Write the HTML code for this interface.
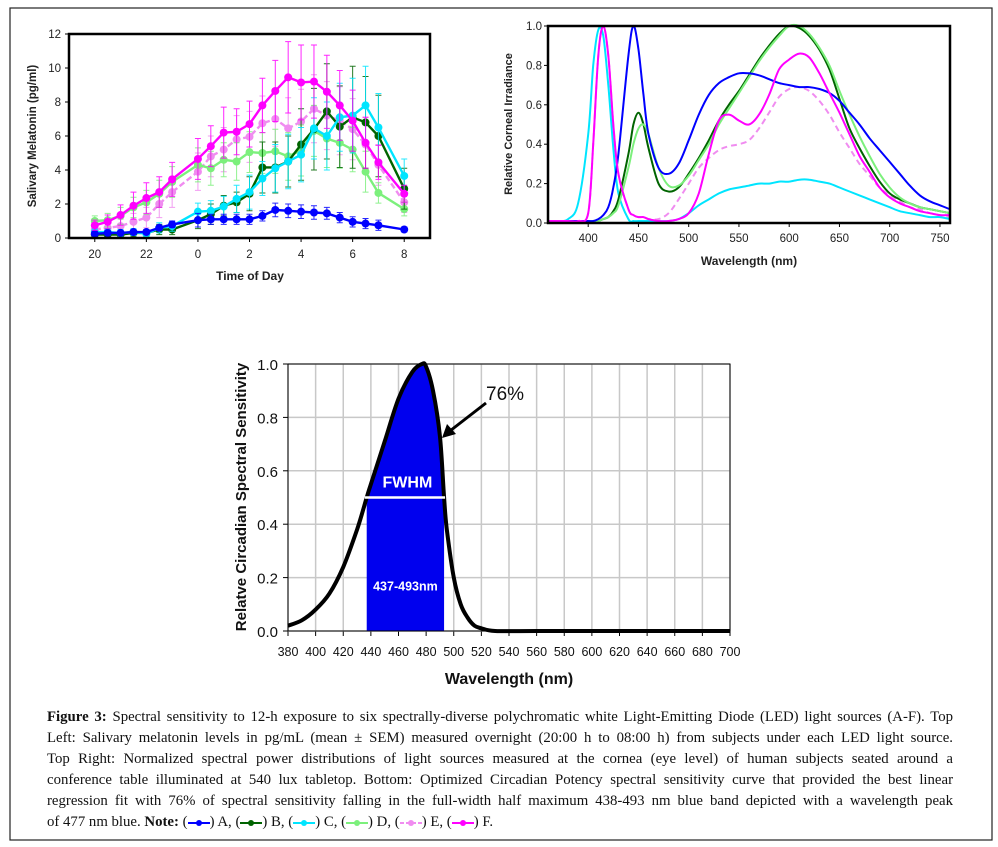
<!DOCTYPE html>
<html><head><meta charset="utf-8">
<style>
html,body{margin:0;padding:0;background:#fff;}
#wrap{position:relative;width:998px;height:847px;overflow:hidden;}
svg{position:absolute;left:0;top:0;}
#caption{position:absolute;left:47px;top:707px;width:906px;font-family:"Liberation Serif",serif;font-size:14.8px;line-height:21px;color:#111;}
#caption .ln{text-align:justify;text-align-last:justify;white-space:nowrap;}
#caption .ln.last{text-align-last:left;}
.lg{display:inline-block;width:22px;height:10px;vertical-align:middle;position:relative;}
</style></head>
<body>
<div id="wrap">
<svg id="svg" width="998" height="847" viewBox="0 0 998 847" xmlns="http://www.w3.org/2000/svg">
  <rect x="10" y="8" width="982" height="832" fill="none" stroke="#222" stroke-width="1.2"/>
  <g id="tl"></g>
  <g id="tr"></g>
  <g id="bt"></g>
</svg>
<div id="caption">
<div class="ln"><b>Figure 3:</b> Spectral sensitivity to 12-h exposure to six spectrally-diverse polychromatic white Light-Emitting Diode (LED) light sources (A-F). Top</div>
<div class="ln">Left: Salivary melatonin levels in pg/mL (mean ± SEM) measured overnight (20:00 h to 08:00 h) from subjects under each LED light source.</div>
<div class="ln">Top Right: Normalized spectral power distributions of light sources measured at the cornea (eye level) of human subjects seated around a</div>
<div class="ln">conference table illuminated at 540 lux tabletop. Bottom: Optimized Circadian Potency spectral sensitivity curve that provided the best linear</div>
<div class="ln">regression fit with 76% of spectral sensitivity falling in the full-width half maximum 438-493 nm blue band depicted with a wavelength peak</div>
<div class="ln last">of 477 nm blue. <b>Note:</b> (<span class="lg"><svg width="22" height="10"><line x1="0" y1="5" x2="22" y2="5" stroke="#0000ff" stroke-width="2"/><circle cx="11" cy="5" r="3" fill="#0000ff"/></svg></span>) A, (<span class="lg"><svg width="22" height="10"><line x1="0" y1="5" x2="22" y2="5" stroke="#006400" stroke-width="2"/><circle cx="11" cy="5" r="3" fill="#006400"/></svg></span>) B, (<span class="lg"><svg width="22" height="10"><line x1="0" y1="5" x2="22" y2="5" stroke="#00e5ff" stroke-width="2"/><circle cx="11" cy="5" r="3" fill="#00e5ff"/></svg></span>) C, (<span class="lg"><svg width="22" height="10"><line x1="0" y1="5" x2="22" y2="5" stroke="#7cf07c" stroke-width="2"/><circle cx="11" cy="5" r="3" fill="#7cf07c"/></svg></span>) D, (<span class="lg"><svg width="22" height="10"><line x1="0" y1="5" x2="22" y2="5" stroke="#f08cf0" stroke-width="2" stroke-dasharray="4 2"/><circle cx="11" cy="5" r="3" fill="#f08cf0"/></svg></span>) E, (<span class="lg"><svg width="22" height="10"><line x1="0" y1="5" x2="22" y2="5" stroke="#ff00ff" stroke-width="2"/><circle cx="11" cy="5" r="3" fill="#ff00ff"/></svg></span>) F.</div>
</div>
</div>
<script>
// ---------- Top-left data (hours since 20:00) ----------
const melHours = [0,0.5,1,1.5,2,2.5,3,4,4.5,5,5.5,6,6.5,7,7.5,8,8.5,9,9.5,10,10.5,11,12];
const melTickLabels = ["20","22","0","2","4","6","8"];
const melTickHours = [0,2,4,6,8,10,12];
const melYTicks = [0,2,4,6,8,10,12];
const melA = [0.25,0.3,0.3,0.35,0.35,0.6,0.8,1.05,1.1,1.1,1.1,1.1,1.3,1.65,1.6,1.55,1.5,1.45,1.2,0.95,0.85,0.75,0.5];
const melB = [0.2,0.2,0.2,0.3,0.3,0.5,0.5,1.05,1.4,1.9,2.1,2.6,4.15,4.15,4.5,5.5,6.4,7.45,6.55,7.1,6.8,6.0,2.9];
const melC = [0.35,0.35,0.3,0.35,0.25,0.6,0.7,1.55,1.6,1.85,2.3,2.7,3.5,4.1,4.5,4.9,6.45,6.0,7.1,7.2,7.8,6.5,3.65];
const melD = [1.0,1.05,1.3,1.8,2.1,2.6,3.3,4.3,4.1,4.6,4.5,5.05,5.0,5.1,4.8,5.15,6.3,5.85,5.6,5.2,3.9,2.65,1.7];
const melE = [0.5,0.6,0.7,0.95,1.2,2.0,2.7,3.9,4.8,5.2,5.8,5.95,6.75,7.0,6.45,6.85,7.6,7.2,6.9,6.4,5.5,4.3,2.1];
const melF = [0.75,0.95,1.35,1.9,2.35,2.7,3.45,4.65,5.4,6.2,6.25,6.7,7.8,8.65,9.45,9.15,9.2,8.6,7.8,6.9,5.6,4.45,2.6];
const semA = [0.1,0.1,0.1,0.1,0.1,0.15,0.2,0.4,0.3,0.3,0.3,0.3,0.3,0.4,0.4,0.4,0.4,0.35,0.3,0.3,0.3,0.3,0.15];
const semB = [0.2,0.2,0.2,0.2,0.2,0.3,0.3,0.5,0.6,0.6,0.6,1.0,1.5,1.5,1.5,2.1,2.4,2.8,2.4,3.0,2.7,2.4,1.2];
const semC = [0.2,0.2,0.2,0.2,0.2,0.3,0.3,0.5,0.6,0.6,0.8,1.0,1.0,1.4,1.6,1.6,1.8,2.0,2.0,2.2,2.3,2.0,1.0];
const semD = [0.3,0.4,0.5,0.6,0.7,0.8,0.9,1.0,1.0,1.0,1.1,1.2,1.2,1.3,1.4,1.5,1.5,1.7,1.5,1.3,1.2,0.6,0.4];
const semE = [0.3,0.3,0.4,0.5,0.6,0.8,0.9,1.1,1.2,1.3,1.4,1.5,1.6,1.6,1.8,1.9,2.0,2.0,2.0,1.8,1.6,1.2,0.6];
const semF = [0.3,0.4,0.6,0.8,0.9,0.9,1.0,1.2,1.2,1.5,1.35,1.35,1.6,1.8,2.1,2.2,2.15,2.15,2.05,1.8,1.5,1.0,0.5];

// ---------- Top-right data ----------
const wl = [360,370,380,390,400,405,410,415,420,425,430,440,445,450,455,460,470,480,490,500,510,520,530,540,550,560,570,580,590,600,610,620,630,640,650,660,670,680,690,700,710,720,730,740,750,760];
const spA = [.01,.01,.01,.01,.01,.01,.02,.04,.08,.18,.35,.85,1.0,.88,.65,.45,.28,.25,.30,.42,.55,.65,.71,.74,.76,.76,.75,.73,.71,.70,.69,.69,.68,.66,.62,.56,.50,.43,.37,.31,.25,.19,.14,.11,.09,.07];
const spB = [.01,.01,.01,.01,.01,.01,.01,.02,.03,.06,.12,.35,.50,.56,.50,.38,.20,.16,.18,.25,.33,.42,.52,.60,.67,.75,.83,.90,.96,1.0,.99,.95,.88,.78,.63,.48,.38,.29,.21,.15,.12,.10,.08,.07,.06,.05];
const spC = [.01,.01,.02,.10,.45,.80,.98,.95,.70,.38,.15,.02,.01,.01,.01,.01,.01,.01,.02,.05,.09,.12,.15,.17,.18,.19,.20,.20,.21,.21,.22,.22,.21,.20,.18,.16,.14,.12,.10,.08,.06,.05,.04,.03,.03,.02];
const spD = [.01,.01,.01,.01,.01,.01,.01,.02,.03,.05,.09,.28,.40,.48,.50,.45,.28,.19,.19,.24,.32,.40,.50,.58,.66,.74,.82,.89,.95,1.0,1.0,.96,.89,.80,.67,.55,.44,.34,.25,.18,.13,.10,.08,.07,.06,.05];
const spE = [.01,.01,.01,.01,.05,.40,.85,1.0,.85,.50,.25,.07,.04,.03,.03,.02,.02,.05,.12,.20,.28,.33,.37,.39,.40,.42,.48,.56,.64,.68,.69,.67,.62,.55,.46,.38,.30,.24,.18,.14,.11,.08,.07,.05,.04,.03];
const spF = [.01,.01,.01,.01,.05,.40,.85,1.0,.85,.50,.25,.07,.04,.03,.03,.02,.01,.01,.02,.05,.15,.35,.52,.55,.52,.50,.55,.65,.78,.83,.86,.84,.76,.66,.56,.45,.34,.26,.18,.13,.10,.08,.06,.05,.04,.04];
const spXTicks = [400,450,500,550,600,650,700,750];
const spYTicks = [0,0.2,0.4,0.6,0.8,1.0];

// ---------- Bottom data ----------
const csWl = [380,390,400,410,420,430,437,440,450,460,470,477,480,485,490,493,495,500,505,510,515,520,530,560,600,650,700];
const csVal = [.02,.04,.08,.14,.24,.38,.5,.55,.71,.87,.97,1.0,.99,.9,.73,.5,.38,.2,.1,.05,.02,.01,0,0,0,0,0];
const csBand = [437,493];
const csHalf = 0.5;
const csXTicks = [380,400,420,440,460,480,500,520,540,560,580,600,620,640,660,680,700];
const csYTicks = [0,0.2,0.4,0.6,0.8,1.0];

const NS = "http://www.w3.org/2000/svg";
function mk(parent, tag, attrs, text){
  const e = document.createElementNS(NS, tag);
  for (const k in attrs) e.setAttribute(k, attrs[k]);
  if (text !== undefined) e.textContent = text;
  parent.appendChild(e);
  return e;
}
function smooth(pts){
  let d = "M" + pts[0][0].toFixed(1) + "," + pts[0][1].toFixed(1);
  for (let i=0;i<pts.length-1;i++){
    const p0 = pts[Math.max(0,i-1)], p1 = pts[i], p2 = pts[i+1], p3 = pts[Math.min(pts.length-1,i+2)];
    const c1x = p1[0]+(p2[0]-p0[0])/6, c1y = p1[1]+(p2[1]-p0[1])/6;
    const c2x = p2[0]-(p3[0]-p1[0])/6, c2y = p2[1]-(p3[1]-p1[1])/6;
    d += " C"+c1x.toFixed(1)+","+c1y.toFixed(1)+" "+c2x.toFixed(1)+","+c2y.toFixed(1)+" "+p2[0].toFixed(1)+","+p2[1].toFixed(1);
  }
  return d;
}
const F = '"Liberation Sans", Arial, sans-serif';

// ================= Top-left =================
(function(){
  const g = document.getElementById('tl');
  const x0=69, x1=430, y0=34, y1=238;
  const xL = h => x0 + (h+1)*(x1-x0)/14;
  const yL = v => y1 - v*(y1-y0)/12;
  melYTicks.forEach(v=>{
    const t = mk(g,'text',{x:x0-8,y:yL(v)+4,'text-anchor':'end','font-family':F,'font-size':11.5,fill:'#222'},String(v));
    
    
    mk(g,'line',{x1:x0-4,x2:x0,y1:yL(v),y2:yL(v),stroke:'#000'});
  });
  melTickHours.forEach((h,i)=>{
    const t = mk(g,'text',{x:xL(h),y:y1+20,'text-anchor':'middle','font-family':F,'font-size':11.5,fill:'#222'},melTickLabels[i]);
    
    
    mk(g,'line',{x1:xL(h),x2:xL(h),y1:y1,y2:y1+4,stroke:'#000'});
  });
  const xt = mk(g,'text',{x:250,y:280,'text-anchor':'middle','font-family':F,'font-size':12,'font-weight':'bold',fill:'#222'},'Time of Day');
  
  
  const yt = mk(g,'text',{x:0,y:0,transform:'translate(36,136) rotate(-90)','text-anchor':'middle','font-family':F,'font-size':11.5,'font-weight':'bold',fill:'#222'},'Salivary Melatonin (pg/ml)');
  
  
  const series = [
    ['series-e',melE,semE,'#f08cf0',true],
    ['series-d',melD,semD,'#7cf07c',false],
    ['series-b',melB,semB,'#006400',false],
    ['series-c',melC,semC,'#00e5ff',false],
    ['series-a',melA,semA,'#0000ff',false],
    ['series-f',melF,semF,'#ff00ff',false]
  ];
  series.forEach(s=>{
    const sg = mk(g,'g',{});
    
    
    s[1].forEach((v,i)=>{
      const x = xL(melHours[i]);
      const eb = mk(sg,'path',{d:`M${x},${yL(v-s[2][i])}V${yL(v+s[2][i])}M${x-3},${yL(v-s[2][i])}h6M${x-3},${yL(v+s[2][i])}h6`,stroke:s[3],'stroke-width':1,fill:'none',opacity:0.85});
      
      
    });
    const pl = mk(sg,'polyline',{points:s[1].map((v,i)=>xL(melHours[i]).toFixed(1)+','+yL(v).toFixed(1)).join(' '),fill:'none',stroke:s[3],'stroke-width':2.4,'stroke-dasharray':s[4]?'6 3':'none'});
    
    
    s[1].forEach((v,i)=>{
      const c = mk(sg,'circle',{cx:xL(melHours[i]),cy:yL(v),r:4,fill:s[3]});
      
      
    });
  });
  const fr = mk(g,'rect',{x:x0,y:y0,width:x1-x0,height:y1-y0,fill:'none',stroke:'#000','stroke-width':2.5});
  
  
})();

// ================= Top-right =================
(function(){
  const g = document.getElementById('tr');
  const x0=548, x1=950, y0=26, y1=223;
  const xR = l => x0 + (l-360)*(x1-x0)/400;
  const yR = v => y1 - v*(y1-y0);
  spYTicks.forEach(v=>{
    const t = mk(g,'text',{x:x0-6,y:yR(v)+4,'text-anchor':'end','font-family':F,'font-size':11.5,fill:'#222'},v.toFixed(1));
    
    
    mk(g,'line',{x1:x0-4,x2:x0,y1:yR(v),y2:yR(v),stroke:'#000'});
  });
  spXTicks.forEach(l=>{
    const t = mk(g,'text',{x:xR(l),y:y1+19,'text-anchor':'middle','font-family':F,'font-size':11.5,fill:'#222'},String(l));
    
    
    mk(g,'line',{x1:xR(l),x2:xR(l),y1:y1,y2:y1+4,stroke:'#000'});
  });
  const xt = mk(g,'text',{x:749,y:265,'text-anchor':'middle','font-family':F,'font-size':12,'font-weight':'bold',fill:'#222'},'Wavelength (nm)');
  
  
  const yt = mk(g,'text',{x:0,y:0,transform:'translate(512,124) rotate(-90)','text-anchor':'middle','font-family':F,'font-size':11,'font-weight':'bold',fill:'#222'},'Relative Corneal Irradiance');
  
  
  const series = [
    ['spectrum-e',spE,'#f08cf0',true],
    ['spectrum-c',spC,'#00e5ff',false],
    ['spectrum-b',spB,'#006400',false],
    ['spectrum-d',spD,'#7cf07c',false],
    ['spectrum-a',spA,'#0000ff',false],
    ['spectrum-f',spF,'#ff00ff',false]
  ];
  series.forEach(s=>{
    const p = mk(g,'path',{d:smooth(s[1].map((v,i)=>[xR(wl[i]),yR(v)])),fill:'none',stroke:s[2],'stroke-width':2,'stroke-dasharray':s[3]?'6 4':'none'});
    
    
  });
  const fr = mk(g,'rect',{x:x0,y:y0,width:x1-x0,height:y1-y0,fill:'none',stroke:'#000','stroke-width':2.5});
  
  
})();

// ================= Bottom =================
(function(){
  const g = document.getElementById('bt');
  const x0=288, x1=730, y0=364, y1=631;
  const xB = l => x0 + (l-380)*(x1-x0)/320;
  const yB = v => y1 - v*(y1-y0);
  csXTicks.forEach(l=>{
    mk(g,'line',{x1:xB(l),x2:xB(l),y1:y0,y2:y1,stroke:'#c8c8c8','stroke-width':1.5});
    const t = mk(g,'text',{x:xB(l),y:y1+25,'text-anchor':'middle','font-family':F,'font-size':12.5,fill:'#111'},String(l));
    
    
    mk(g,'line',{x1:xB(l),x2:xB(l),y1:y1,y2:y1+5,stroke:'#000'});
  });
  csYTicks.forEach(v=>{
    mk(g,'line',{x1:x0,x2:x1,y1:yB(v),y2:yB(v),stroke:'#c8c8c8','stroke-width':1.5});
    const t = mk(g,'text',{x:x0-10,y:yB(v)+6,'text-anchor':'end','font-family':F,'font-size':15,fill:'#111'},v.toFixed(1));
    
    
    mk(g,'line',{x1:x0-5,x2:x0,y1:yB(v),y2:yB(v),stroke:'#000'});
  });
  const bandPts = [];
  csWl.forEach((l,i)=>{ if(l>=csBand[0] && l<=csBand[1]) bandPts.push([xB(l),yB(csVal[i])]); });
  const bd = "M"+xB(csBand[0])+","+yB(0)+" L"+bandPts.map(p=>p[0].toFixed(1)+","+p[1].toFixed(1)).join(" L")+" L"+xB(csBand[1])+","+yB(0)+"Z";
  const band = mk(g,'path',{d:bd,fill:'#0000ee'});
  
  
  const curve = mk(g,'path',{d:smooth(csWl.map((l,i)=>[xB(l),yB(csVal[i])])),fill:'none',stroke:'#000','stroke-width':4,'stroke-linejoin':'round'});
  
  
  const hl = mk(g,'line',{x1:xB(csBand[0])-2,x2:xB(csBand[1])+1,y1:yB(csHalf),y2:yB(csHalf),stroke:'#fff','stroke-width':2.5});
  
  
  const mid = (xB(csBand[0])+xB(csBand[1]))/2;
  const t1 = mk(g,'text',{x:mid+2,y:yB(csHalf)-10,'text-anchor':'middle','font-family':F,'font-size':16,'font-weight':'bold',fill:'#fff'},'FWHM');
  
  
  const t2 = mk(g,'text',{x:mid,y:yB(0.17)+5,'text-anchor':'middle','font-family':F,'font-size':12.5,'font-weight':'bold',fill:'#fff'},csBand[0]+'-'+csBand[1]+'nm');
  
  
  const fr = mk(g,'rect',{x:x0,y:y0,width:x1-x0,height:y1-y0,fill:'none',stroke:'#000','stroke-width':1});
  
  
  const ar = mk(g,'path',{d:'M486,403 L446,434',stroke:'#000','stroke-width':3,fill:'none'});
  
  
  const ah = mk(g,'path',{d:'M442,438 L447,424 L456,434 Z',fill:'#000'});
  
  
  const pc = mk(g,'text',{x:486,y:400,'font-family':F,'font-size':19,fill:'#111'},'76%');
  
  
  const xt = mk(g,'text',{x:509,y:684,'text-anchor':'middle','font-family':F,'font-size':16,'font-weight':'bold',fill:'#111'},'Wavelength (nm)');
  
  
  const yt = mk(g,'text',{x:0,y:0,transform:'translate(246,497) rotate(-90)','text-anchor':'middle','font-family':F,'font-size':15,'font-weight':'bold',fill:'#111'},'Relatve Circadian Spectral Sensitivity');
  
  
})();
</script>
</body></html>
